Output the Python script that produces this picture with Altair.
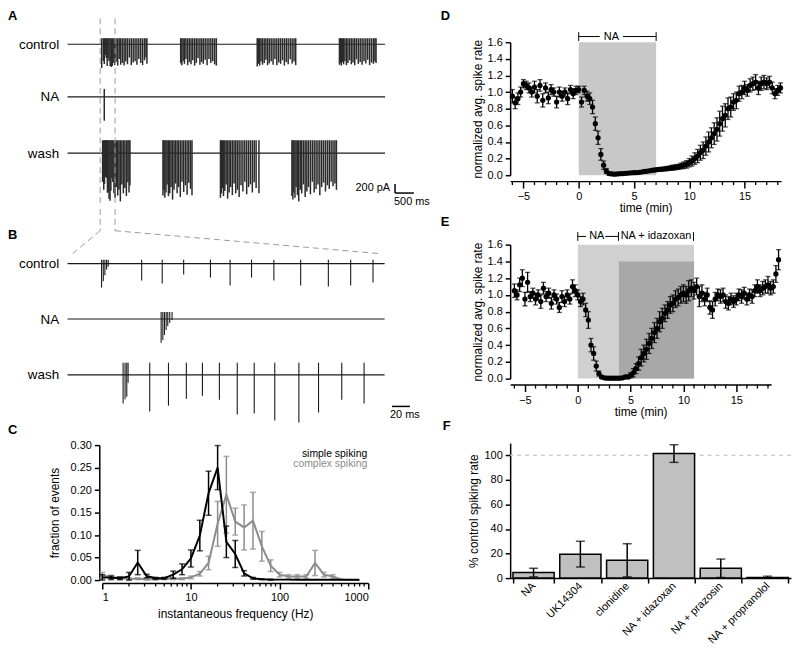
import altair as alt
import pandas as pd

FONT = "Liberation Sans"

# ============================ Panel A / B : current traces ============================
# spike times (ms) and downward spike amplitudes (pA), one pair of lists per burst
ctrl_b1_t = [906, 951, 974, 998, 1028, 1050, 1074, 1099, 1129, 1160, 1185, 1210, 1250, 1285, 1330, 1370,
             1410, 1455, 1500, 1545, 1590, 1640, 1690, 1740, 1790, 1840, 1890, 1940, 1990, 2040, 2080, 2105]
ctrl_b1_d = [533, 378, 444, 244, 311, 489, 311, 378, 489, 511, 489, 422, 470, 400, 480, 330,
             460, 420, 480, 390, 450, 300, 470, 410, 380, 460, 330, 420, 470, 360, 300, 440]
ctrl_b2_t = [3000, 3030, 3065, 3100, 3140, 3185, 3230, 3275, 3320, 3370, 3415, 3460, 3510, 3555, 3600,
             3650, 3700, 3750, 3800, 3850, 3900, 3945]
ctrl_b2_d = [430, 470, 380, 440, 330, 470, 400, 450, 360, 480, 420, 310, 460, 400, 440,
             350, 470, 330, 420, 380, 450, 480]
ctrl_b3_t = [5030, 5060, 5095, 5130, 5170, 5215, 5260, 5305, 5350, 5400, 5450, 5500, 5550, 5600, 5650,
             5700, 5750, 5800, 5850, 5905, 5955, 6005, 6050]
ctrl_b3_d = [500, 440, 480, 390, 460, 420, 350, 470, 430, 380, 460, 330, 470, 410, 440,
             360, 480, 400, 450, 340, 430, 390, 470]
ctrl_b4_t = [7210, 7235, 7260, 7290, 7320, 7355, 7395, 7435, 7480, 7525, 7570, 7615, 7660, 7710, 7760,
             7810, 7860, 7910, 7960, 8010, 8060, 8110, 8150, 8180]
ctrl_b4_d = [460, 420, 480, 400, 450, 380, 470, 420, 360, 450, 410, 470, 340, 440, 400,
             460, 380, 430, 350, 470, 410, 440, 390, 420]
na_a_t = [974]
na_a_d = [533]
wash_b1_t = [930, 960, 981, 1001, 1019, 1038, 1058, 1077, 1100, 1127, 1149, 1175, 1200,
             1230, 1260, 1295, 1330, 1365, 1400, 1440, 1480, 1520, 1560, 1600, 1630, 1655]
wash_b1_d = [644, 822, 689, 533, 467, 556, 889, 867, 1022, 1067, 844, 556, 644,
             900, 1000, 760, 950, 820, 1080, 700, 900, 780, 960, 650, 880, 720]
wash_b2_t = [2530, 2555, 2580, 2610, 2640, 2675, 2710, 2745, 2785, 2825, 2865, 2905, 2945, 2990,
             3035, 3080, 3125, 3170, 3215, 3260, 3300]
wash_b2_d = [950, 820, 1000, 880, 700, 960, 900, 760, 1040, 820, 680, 900, 760, 980,
             640, 870, 720, 930, 660, 800, 940]
wash_b3_t = [4055, 4080, 4105, 4135, 4170, 4205, 4245, 4285, 4325, 4370, 4415, 4460, 4505, 4550,
             4600, 4650, 4700, 4750, 4800, 4850, 4900, 4950, 5000, 5075]
wash_b3_d = [1000, 900, 780, 960, 850, 700, 1020, 880, 760, 940, 680, 900, 820, 980,
             720, 860, 640, 920, 760, 700, 880, 650, 780, 900]
wash_b4_t = [5950, 5975, 6000, 6030, 6060, 6095, 6130, 6170, 6210, 6255, 6300, 6345, 6390, 6440,
             6490, 6540, 6590, 6640, 6690, 6740, 6790, 6840, 6890, 6940, 6990, 7040, 7090, 7130]
wash_b4_d = [960, 1040, 880, 1000, 760, 940, 1080, 820, 900, 700, 980, 860, 760, 920,
             640, 880, 800, 700, 940, 760, 660, 860, 720, 800, 640, 740, 680, 820]

# expanded segment (panel B), times in ms from the start of the segment
ctrl_zoom_t = [38.1, 40.0, 41.8, 43.7, 45.5, 83, 106, 130, 160, 182, 206, 231, 261, 292, 317, 342]
ctrl_zoom_d = [533, 393, 259, 133, 67, 378, 444, 244, 311, 489, 311, 378, 489, 511, 489, 422]
na_zoom_t = [104.8, 106.7, 108.5, 110.4, 112.2, 114.4, 117.0]
na_zoom_d = [533, 467, 356, 244, 156, 89, 22]
wash_zoom_t = [62.2, 64.4, 66.3, 67.8, 92, 113, 133, 151, 170, 190, 209, 232, 259, 281, 307, 332]
wash_zoom_d = [644, 548, 489, 178, 822, 689, 533, 467, 556, 889, 867, 1022, 1067, 844, 556, 644]

trace_names = ["control", "NA", "wash", "control", "NA", "wash"]
trace_offsets = [0, -1180, -2440, -4870, -6110, -7360]   # stacking offsets (pA)
trace_up = [133, 178, 289, 90, 155, 270]                 # upward spike excursion (pA)
A_LEN, B_LEN = 8420, 355                                 # trace durations (ms)
WIN = [865, 1260]                                        # expanded window in A (ms)
A_DOM, B_DOM = 9263, 391.1                               # visible time span of each panel (ms)
Y_TOP, Y_MID, Y_BOT = 44.4, -3644, -8422                 # vertical extent of A and B (pA)


def spike_rows(idx, times, depths):
    assert len(times) == len(depths)
    return [{"t": t, "top": trace_offsets[idx] + trace_up[idx], "bot": trace_offsets[idx] - d}
            for t, d in zip(times, depths)]


rows_a = []
for tt, dd in [(ctrl_b1_t, ctrl_b1_d), (ctrl_b2_t, ctrl_b2_d), (ctrl_b3_t, ctrl_b3_d), (ctrl_b4_t, ctrl_b4_d)]:
    rows_a += spike_rows(0, tt, dd)
rows_a += spike_rows(1, na_a_t, na_a_d)
for tt, dd in [(wash_b1_t, wash_b1_d), (wash_b2_t, wash_b2_d), (wash_b3_t, wash_b3_d), (wash_b4_t, wash_b4_d)]:
    rows_a += spike_rows(2, tt, dd)
spikes_a = pd.DataFrame(rows_a)
spikes_b = pd.DataFrame(spike_rows(3, ctrl_zoom_t, ctrl_zoom_d) + spike_rows(4, na_zoom_t, na_zoom_d) +
                        spike_rows(5, wash_zoom_t, wash_zoom_d))
base_a = pd.DataFrame({"t0": [0] * 3, "t1": [A_LEN] * 3, "y": trace_offsets[:3]})
base_b = pd.DataFrame({"t0": [0] * 3, "t1": [B_LEN] * 3, "y": trace_offsets[3:]})

# zoom connectors: window edges in A, carried into B's time units
k = B_DOM / A_DOM
conn_a = pd.DataFrame({"x1": WIN, "x2": WIN, "y1": [578, 578], "y2": [Y_MID, Y_MID]})
conn_b = pd.DataFrame({"x1": [WIN[0] * k, WIN[1] * k, WIN[0] * k, WIN[1] * k],
                       "x2": [WIN[0] * k, WIN[1] * k, 5.6, 349.0],
                       "y1": [Y_MID, Y_MID, -4133, -4133],
                       "y2": [-4133, -4133, -4644, -4644]})
sbar_a = pd.DataFrame({"x1": [8684, 8684], "x2": [8684, 9184], "y1": [-3133, -3333], "y2": [-3333, -3333]})
sbar_b = pd.DataFrame({"x1": [363.3], "x2": [383.3], "y1": [-8067], "y2": [-8067]})

label_expr = "".join(f"datum.value == {o} ? '{n}' : " for o, n in zip(trace_offsets, trace_names)) + "''"
one = pd.DataFrame({"k": [0]})


def letter(ch, dx, dy):
    return alt.Chart(one).mark_text(text=ch, align="left", baseline="top", fontSize=13, fontWeight="bold",
                                    font=FONT).encode(x=alt.value(dx), y=alt.value(dy))


def trace_panel(spk, base, conn, sbar, texts, xdom, ydom, offs, let, let_y, height, spike_w, spike_c):
    xs = alt.Scale(domain=[0, xdom], range=[-35, 317], nice=False, zero=False)
    ys = alt.Scale(domain=ydom, nice=False, zero=False)
    ax = alt.Axis(values=offs, labelExpr=label_expr, domain=False, ticks=False, grid=False,
                  labelFontSize=13.5, labelPadding=44, labelColor="black", title=None)

    def X(f):
        return alt.X(f, type="quantitative", scale=xs, axis=None)

    def Y(f):
        return alt.Y(f, type="quantitative", scale=ys, axis=ax)

    lay = [
        alt.Chart(base).mark_rule(color="#1a1a1a", strokeWidth=1.1).encode(x=X("t0"), x2="t1:Q", y=Y("y")),
        alt.Chart(spk).mark_rule(color=spike_c, strokeWidth=spike_w).encode(x=X("t"), y=Y("top"), y2="bot:Q"),
        alt.Chart(conn).mark_rule(color="#9a9a9a", strokeWidth=1, strokeDash=[6, 4]).encode(
            x=X("x1"), x2="x2:Q", y=Y("y1"), y2="y2:Q"),
        alt.Chart(sbar).mark_rule(color="black", strokeWidth=1.5).encode(
            x=X("x1"), x2="x2:Q", y=Y("y1"), y2="y2:Q"),
    ]
    for (x, y, s, al, bl) in texts:
        lay.append(alt.Chart(pd.DataFrame({"x": [x], "y": [y], "s": [s]})).mark_text(
            align=al, baseline=bl, fontSize=11, font=FONT).encode(x=X("x"), y=Y("y"), text="s:N"))
    lay.append(letter(let, -95, let_y))
    return alt.layer(*lay).properties(width=317, height=height)


panel_a = trace_panel(spikes_a, base_a, conn_a, sbar_a,
                      [(8553, -3222, "200 pA", "right", "middle"), (8658, -3400, "500 ms", "left", "top")],
                      A_DOM, [Y_MID, Y_TOP], trace_offsets[:3], "A", -32, 166, 1.5, "#2a2a2a")
panel_b = trace_panel(spikes_b, base_b, conn_b, sbar_b,
                      [(361, -8133, "20 ms", "left", "top")],
                      B_DOM, [Y_BOT, Y_MID], trace_offsets[3:], "B", 20, 215, 1.1, "#1a1a1a")

# ============================ Panel C : ISI distributions ============================
freq_bins = [1, 1.26, 1.58, 2.0, 2.51, 3.16, 3.98, 5.01, 6.31, 7.94, 10, 12.6, 15.8, 20.0, 25.1,
             31.6, 39.8, 50.1, 63.1, 79.4, 100, 126, 158, 200, 251, 316, 398, 501, 631, 794]
simple_mean = [0.006, 0.005, 0.004, 0.008, 0.039, 0.009, 0.004, 0.004, 0.012, 0.024, 0.048, 0.099,
               0.193, 0.250, 0.085, 0.058, 0.015, 0.004, 0.002, 0.001, 0.001, 0.001, 0.0005, 0.0005,
               0.0005, 0.0005, 0.0005, 0.0005, 0.0005, 0.0005]
simple_err = [0.006, 0.004, 0.003, 0.009, 0.027, 0.004, 0.002, 0.002, 0.008, 0.012, 0.019, 0.034,
              0.049, 0.049, 0.035, 0.03, 0.006, 0.002, 0.001, 0.001, 0, 0, 0, 0, 0, 0, 0, 0, 0, 0]
complex_mean = [0.010, 0.007, 0.004, 0.003, 0.003, 0.002, 0.002, 0.003, 0.003, 0.003, 0.006, 0.014,
                0.038, 0.125, 0.19, 0.13, 0.117, 0.132, 0.075, 0.032, 0.012, 0.008, 0.008, 0.008,
                0.038, 0.012, 0.008, 0.001, 0.0, 0.0]
complex_err = [0.007, 0.004, 0.003, 0.002, 0.002, 0.002, 0.002, 0.002, 0.002, 0.002, 0.003, 0.005,
               0.015, 0.05, 0.085, 0.03, 0.05, 0.063, 0.033, 0.013, 0.005, 0.004, 0.004, 0.004,
               0.028, 0.005, 0.004, 0.001, 0, 0]
C_COLORS = {"simple": "#000000", "complex": "#8c8c8c"}
c_major = [1, 10, 100, 1000]
c_minor = [2, 3, 4, 5, 6, 7, 8, 9, 20, 30, 40, 50, 60, 70, 80, 90, 200, 300, 400, 500, 600, 700, 800, 900]

c_rows = []
for name, mm, ee in [("complex", complex_mean, complex_err), ("simple", simple_mean, simple_err)]:
    for f, m, e in zip(freq_bins, mm, ee):
        c_rows.append({"f": f, "m": m, "lo": max(m - e, 0), "hi": m + e, "e": e, "s": name})
c_df = pd.DataFrame(c_rows)
c_caps = pd.concat([c_df[c_df.e > 0].assign(v=c_df.lo), c_df[c_df.e > 0].assign(v=c_df.hi)])

C_H = 136
xC = alt.Scale(type="log", domain=[1, 1000], nice=False)
yC = alt.Scale(domain=[0, 0.30], nice=False)
ax_xC = alt.Axis(values=c_major, format="~g", tickSize=6, offset=3, labelPadding=3, titlePadding=6,
                 title="instantaneous frequency (Hz)")
ax_yC = alt.Axis(values=[0, 0.05, 0.10, 0.15, 0.20, 0.25, 0.30], format=".2f", offset=3,
                 title="fraction of events", titlePadding=9, labelPadding=3)


def XC(f):
    return alt.X(f, type="quantitative", scale=xC, axis=ax_xC)


def YC(f):
    return alt.Y(f, type="quantitative", scale=yC, axis=ax_yC)


c_layers = [
    alt.Chart(pd.DataFrame({"f": c_minor})).mark_rule(color="black", strokeWidth=1.3).encode(
        x=XC("f"), y=alt.value(C_H + 3), y2=alt.value(C_H + 6.5)),
]
for name in ["complex", "simple"]:
    col = C_COLORS[name]
    sub = c_df[c_df.s == name]
    caps = c_caps[c_caps.s == name]
    c_layers += [
        alt.Chart(sub).mark_line(strokeWidth=2, color=col).encode(x=XC("f"), y=YC("m")),
        alt.Chart(sub).mark_rule(strokeWidth=1.5, color=col).encode(x=XC("f"), y=YC("lo"), y2="hi:Q"),
        alt.Chart(caps).mark_tick(orient="horizontal", size=6, thickness=1.5, color=col).encode(
            x=XC("f"), y=YC("v")),
    ]
c_layers += [
    alt.Chart(one).mark_text(text="simple spiking", align="right", baseline="middle", fontSize=10.5,
                             font=FONT, color="#000000").encode(x=alt.value(267), y=alt.value(9)),
    alt.Chart(one).mark_text(text="complex spiking", align="right", baseline="middle", fontSize=10.5,
                             font=FONT, color="#8c8c8c").encode(x=alt.value(267), y=alt.value(19)),
    letter("C", -95, -21.5),
]
panel_c = alt.layer(*c_layers).properties(width=268, height=C_H)

# ============================ Panels D / E : time courses ============================
d_rate = [0.95, 0.87, 0.92, 1.00, 1.10, 1.08, 1.05, 1.00, 1.06, 0.95, 1.08, 0.90,
          1.05, 0.93, 1.03, 1.00, 0.88, 1.00, 0.95, 1.00, 0.92, 1.03, 0.98, 1.02,
          1.03, 0.88, 1.02, 0.95, 0.92, 0.82, 0.62, 0.45, 0.25, 0.12, 0.05, 0.02,
          0.015, 0.012, 0.015, 0.018, 0.02, 0.022, 0.025, 0.028, 0.03, 0.032, 0.035, 0.04,
          0.045, 0.05, 0.055, 0.06, 0.065, 0.07, 0.072, 0.075, 0.08, 0.085, 0.09, 0.095,
          0.10, 0.11, 0.12, 0.13, 0.15, 0.17, 0.20, 0.23, 0.27, 0.30, 0.35, 0.40,
          0.45, 0.50, 0.55, 0.62, 0.68, 0.72, 0.80, 0.82, 0.88, 0.90, 0.98, 1.00,
          1.05, 1.02, 1.08, 1.10, 1.12, 1.05, 1.10, 1.12, 1.10, 1.12, 1.05, 0.98,
          1.02, 1.05]
d_err = [0.08, 0.07, 0.07, 0.06, 0.05, 0.05, 0.06, 0.06, 0.07, 0.08, 0.07, 0.08,
         0.06, 0.07, 0.06, 0.05, 0.07, 0.06, 0.06, 0.05, 0.07, 0.05, 0.06, 0.05,
         0.04, 0.06, 0.05, 0.06, 0.07, 0.08, 0.08, 0.08, 0.07, 0.05, 0.03, 0.02,
         0.01, 0.01, 0.01, 0.01, 0.01, 0.01, 0.01, 0.01, 0.01, 0.01, 0.01, 0.01,
         0.015, 0.015, 0.015, 0.02, 0.02, 0.02, 0.02, 0.02, 0.025, 0.025, 0.03, 0.03,
         0.03, 0.035, 0.04, 0.045, 0.05, 0.06, 0.07, 0.08, 0.09, 0.10, 0.11, 0.12,
         0.12, 0.13, 0.14, 0.15, 0.15, 0.14, 0.13, 0.12, 0.10, 0.10, 0.09, 0.08,
         0.08, 0.07, 0.08, 0.08, 0.09, 0.08, 0.08, 0.08, 0.07, 0.07, 0.07, 0.06,
         0.06, 0.06]
e_rate = [1.05, 1.00, 1.12, 1.20, 0.95, 1.15, 0.98, 1.02, 0.95, 1.00, 0.92, 1.08,
          0.98, 1.02, 0.90, 1.00, 0.95, 0.85, 0.98, 0.92, 1.00, 0.95, 1.10, 1.05,
          1.00, 0.92, 0.95, 0.82, 0.70, 0.40, 0.30, 0.15, 0.06, 0.02, 0.01, 0.005,
          0.005, 0.005, 0.005, 0.005, 0.005, 0.01, 0.02, 0.02, 0.04, 0.07, 0.12, 0.18,
          0.25, 0.30, 0.35, 0.42, 0.48, 0.55, 0.60, 0.68, 0.72, 0.78, 0.82, 0.88,
          0.90, 0.95, 0.97, 1.00, 1.02, 1.00, 1.05, 1.08, 1.05, 1.10, 0.98, 1.02,
          0.95, 1.00, 0.85, 0.82, 0.95, 1.00, 0.98, 1.00, 0.92, 0.90, 0.95, 0.92,
          0.95, 1.00, 0.98, 1.02, 0.95, 1.00, 0.98, 1.05, 1.10, 1.05, 1.08, 1.10,
          1.12, 1.08, 1.10, 1.25, 1.42]
e_err = [0.08, 0.06, 0.08, 0.10, 0.08, 0.12, 0.06, 0.06, 0.07, 0.06, 0.08, 0.07,
         0.06, 0.06, 0.07, 0.06, 0.06, 0.06, 0.07, 0.06, 0.06, 0.06, 0.08, 0.07,
         0.06, 0.06, 0.07, 0.08, 0.10, 0.08, 0.08, 0.06, 0.03, 0.01, 0.01, 0.005,
         0.005, 0.005, 0.005, 0.005, 0.005, 0.01, 0.015, 0.02, 0.03, 0.05, 0.06, 0.08,
         0.10, 0.10, 0.12, 0.12, 0.12, 0.12, 0.12, 0.12, 0.12, 0.10, 0.10, 0.10,
         0.10, 0.10, 0.10, 0.10, 0.10, 0.10, 0.12, 0.10, 0.10, 0.10, 0.12, 0.10,
         0.08, 0.08, 0.08, 0.10, 0.08, 0.07, 0.08, 0.08, 0.08, 0.08, 0.07, 0.07,
         0.07, 0.07, 0.08, 0.07, 0.07, 0.07, 0.08, 0.07, 0.08, 0.07, 0.08, 0.08,
         0.10, 0.08, 0.08, 0.10, 0.12]
T_START, T_STEP = -6.0, 0.25   # sampling of the binned spike rate (min)
t_major = [-5, 0, 5, 10, 15]
t_minor = [-6, -4, -3, -2, -1, 1, 2, 3, 4, 6, 7, 8, 9, 11, 12, 13, 14, 16, 17, 18]


def time_panel(rate, err, shades, brackets, labels, let, let_dy, width, height, xdom):
    t = [T_START + T_STEP * i for i in range(len(rate))]
    df = pd.DataFrame({"t": t, "r": rate, "lo": [r - e for r, e in zip(rate, err)],
                       "hi": [r + e for r, e in zip(rate, err)]})
    caps = pd.concat([df.assign(v=df.lo), df.assign(v=df.hi)])
    xs = alt.Scale(domain=xdom, nice=False, zero=False)
    ys = alt.Scale(domain=[0, 1.6], nice=False)
    ax = alt.Axis(values=t_major, tickSize=7, offset=6, labelPadding=3, titlePadding=1, title="time (min)")
    ay = alt.Axis(values=[0, 0.2, 0.4, 0.6, 0.8, 1.0, 1.2, 1.4, 1.6], format=".1f",
                  title="normalized avg. spike rate", labelPadding=3, titlePadding=3)

    def X(f):
        return alt.X(f, type="quantitative", scale=xs, axis=ax)

    def Y(f):
        return alt.Y(f, type="quantitative", scale=ys, axis=ay)

    lay = []
    for (x0, x1, y0, y1, col) in shades:
        lay.append(alt.Chart(pd.DataFrame({"x0": [x0], "x1": [x1], "y0": [y0], "y1": [y1]})).mark_rect(
            color=col).encode(x=X("x0"), x2="x1:Q", y=Y("y0"), y2="y1:Q"))
    lay += [
        alt.Chart(pd.DataFrame({"t": t_minor})).mark_rule(color="black", strokeWidth=1.3).encode(
            x=X("t"), y=alt.value(height + 6), y2=alt.value(height + 10)),
        alt.Chart(df).mark_rule(color="black", strokeWidth=1.3).encode(x=X("t"), y=Y("lo"), y2="hi:Q"),
        alt.Chart(caps).mark_tick(orient="horizontal", color="black", size=5, thickness=1.3).encode(
            x=X("t"), y=Y("v")),
        alt.Chart(df).mark_circle(color="black", size=28, opacity=1).encode(x=X("t"), y=Y("r")),
        alt.Chart(pd.DataFrame(brackets, columns=["x0", "x1", "y0", "y1"])).mark_rule(
            color="black", strokeWidth=1).encode(x=X("x0"), x2="x1:Q", y=Y("y0"), y2="y1:Q"),
        alt.Chart(pd.DataFrame(labels, columns=["x", "y", "s"])).mark_text(
            fontSize=11, font=FONT, baseline="middle").encode(x=X("x"), y=Y("y"), text="s:N"),
        letter(let, -70, let_dy),
    ]
    return alt.layer(*lay).properties(width=width, height=height)


BY, BT, BB = 1.668, 1.72, 1.615
panel_d = time_panel(
    d_rate, d_err,
    shades=[(0, 7, 0, 1.6, "#c8c8c8")],
    brackets=[(0, 1.9, BY, BY), (4.0, 7, BY, BY), (0, 0, BB, BT), (7, 7, BB, BT)],
    labels=[(2.95, BY, "NA")],
    let="D", let_dy=-32, width=273, height=134, xdom=[-6.2, 18.3])
EY, ET, EB = 1.698, 1.75, 1.645
panel_e = time_panel(
    e_rate, e_err,
    shades=[(0, 11.0, 0, 1.6, "#d0d0d0"), (3.9, 11.0, 0, 1.4, "#a8a8a8")],
    brackets=[(0, 0.78, EY, EY), (2.6, 3.85, EY, EY), (0, 0, EB, ET), (3.85, 3.85, EB, ET),
              (10.95, 10.95, EB, ET)],
    labels=[(1.8, EY, "NA"), (7.4, EY, "NA + idazoxan")],
    let="E", let_dy=-29, width=263, height=135, xdom=[-6.4, 18.3])

# ============================ Panel F : summary bars ============================
f_cats = ["NA", "UK14304", "clonidine", "NA + idazoxan", "NA + prazosin", "NA + propranolol"]
f_mean = [4.5, 19.5, 14.5, 101.5, 8.0, 0.4]
f_err = [3.5, 10.5, 13.5, 7.2, 7.5, 1.2]
f_ref = [100]

f_df = pd.DataFrame({"c": f_cats, "m": f_mean, "lo": [max(m - e, 0) for m, e in zip(f_mean, f_err)],
                     "hi": [m + e for m, e in zip(f_mean, f_err)]})
f_caps = pd.concat([f_df.assign(v=f_df.lo), f_df.assign(v=f_df.hi)])
xF = alt.X("c:N", sort=f_cats, scale=alt.Scale(paddingInner=0.12, paddingOuter=0.06),
           axis=alt.Axis(labelAngle=-45, labelAlign="right", labelBaseline="middle", tickBand="extent",
                         tickSize=5, labelPadding=1, labelFontSize=11, title=None))
yF = alt.Scale(domain=[0, 110], nice=False)
axF = alt.Axis(values=[0, 20, 40, 60, 80, 100], title="% control spiking rate", labelPadding=3, titlePadding=4)
panel_f = alt.layer(
    alt.Chart(pd.DataFrame({"r": f_ref})).mark_rule(color="#c8c8c8", strokeDash=[4, 4], strokeWidth=1.2).encode(
        y=alt.Y("r:Q", scale=yF, axis=axF)),
    alt.Chart(f_df).mark_bar(color="#c0c0c0", stroke="black", strokeWidth=1.5).encode(
        x=xF, y=alt.Y("m:Q", scale=yF, axis=axF)),
    alt.Chart(f_df).mark_rule(color="black", strokeWidth=1.5).encode(
        x=xF, y=alt.Y("lo:Q", scale=yF, axis=axF), y2="hi:Q"),
    alt.Chart(f_caps).mark_tick(color="black", size=9, thickness=1.5).encode(
        x=xF, y=alt.Y("v:Q", scale=yF, axis=axF)),
    letter("F", -68, -23.5),
).properties(width=283, height=136)

left = alt.vconcat(panel_a, panel_b, panel_c, spacing=0)
right = alt.vconcat(panel_d, panel_e, panel_f, spacing=2)

chart = alt.hconcat(left, right, spacing=10).properties(
    padding={"left": 0, "top": 0, "right": 0, "bottom": 0}
).configure_view(stroke=None).configure_axis(
    labelFont=FONT, titleFont=FONT, labelFontSize=11, titleFontSize=12, titleFontWeight="normal",
    domainColor="black", tickColor="black", labelColor="black", titleColor="black",
    domainWidth=1.5, tickWidth=1.5, tickSize=5, grid=False
).configure_text(font=FONT)

chart.save("out.html", embed_options={"renderer": "svg", "actions": False})
